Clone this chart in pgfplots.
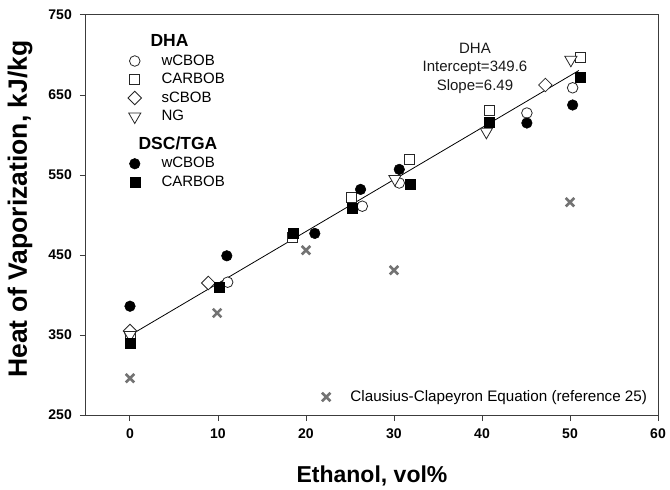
\documentclass[border=0pt]{standalone}
\usepackage{fontspec}
\setmainfont{Liberation Sans}
\usepackage{pgfplots}
\pgfplotsset{compat=1.18}
\definecolor{axgray}{RGB}{60,60,60}
\definecolor{xgray}{RGB}{115,115,115}
\begin{document}
\begin{tikzpicture}
\begin{axis}[
  scale only axis, width=572pt, height=400pt,
  xmin=-5, xmax=60, ymin=250, ymax=750,
  xtick={0,10,...,60}, ytick={250,350,...,750},
  tick align=outside, tick pos=left, major tick length=6pt,
  axis line style={axgray, line width=1pt},
  every tick/.style={axgray, line width=1pt},
  /pgf/number format/assume math mode=true,
  ticklabel style={font=\fontsize{14}{16}\selectfont\bfseries},
  yticklabel style={inner sep=0pt, xshift=-8pt},
  xticklabel style={inner sep=0pt, yshift=-8pt},
  xlabel={Ethanol, vol\%},
  ylabel={Heat of Vaporization, kJ/kg},
  every axis x label/.style={at={(axis description cs:0.5,0)}, anchor=base, yshift=-67pt, font=\fontsize{23}{26}\selectfont\bfseries},
  every axis y label/.style={at={([xshift=-59pt]axis description cs:0,0.515)}, rotate=90, anchor=base, font=\fontsize{26.5}{28}\selectfont\bfseries},
  legend cell align=left,
  legend style={draw=none, fill=none, inner sep=0pt, outer sep=0pt,
    at={(0.0734,0.94875)}, anchor=north west, row sep=4.5pt,
    nodes={inner sep=0pt, text height=11pt, text depth=3pt, font=\fontsize{15}{18}\selectfont},
    /tikz/every odd column/.append style={column sep=20pt}},
  legend image code/.code={\draw[#1] plot coordinates {(0pt,0pt)};},
]
\coordinate (bbsw) at (rel axis cs:0,0);
\coordinate (bbne) at (rel axis cs:1,1);
% regression line
\addplot[black, line width=0.8pt, forget plot] coordinates {(0,349.6) (51,680.6)};

\addlegendimage{empty legend}
\addlegendentry{\hspace*{-11pt}\fontsize{17.5}{18}\selectfont\bfseries DHA}
% DHA wCBOB
\addplot[only marks, mark=*, mark size=5.3pt, mark options={fill=white, draw=black!85, line width=0.8pt}]
  coordinates {(0,352) (11.1,416) (26.4,511) (30.6,540) (45.1,627.5) (50.3,659)};
\addlegendentry{wCBOB}
% DHA CARBOB
\addplot[only marks, mark=square*, mark size=5pt, mark options={fill=white, draw=black!85, line width=0.8pt}]
  coordinates {(0,351) (18.5,472) (25.2,522) (31.8,570) (40.8,631) (51.2,697.5)};
\addlegendentry{CARBOB}
% DHA sCBOB
\addplot[only marks, mark=square*, mark size=4.8pt, mark options={rotate=45, fill=white, draw=black!85, line width=0.8pt}]
  coordinates {(0,355) (8.9,415) (47.2,662.5)};
\addlegendentry{sCBOB}
% DHA NG
\addplot[only marks, mark=triangle*, mark size=7pt, mark options={rotate=180, fill=white, draw=black!85, line width=0.8pt}]
  coordinates {(0,350) (30.1,545) (40.5,604) (50.1,694)};
\addlegendentry{NG}

\addlegendimage{empty legend}
\addlegendentry[text height=5.75pt, text depth=0pt]{}
\addlegendimage{empty legend}
\addlegendentry{\hspace*{-23pt}\fontsize{17.5}{18}\selectfont\bfseries DSC/TGA}
% DSC wCBOB
\addplot[only marks, mark=*, mark size=5.3pt, mark options={fill=black, draw=black, line width=0.5pt}]
  coordinates {(0,386) (11,449) (21,477) (26.2,532) (30.6,557) (45.1,615) (50.3,637.5)};
\addlegendentry{wCBOB}
% DSC CARBOB
\addplot[only marks, mark=square*, mark size=5pt, mark options={fill=black, draw=black, line width=0.5pt}]
  coordinates {(0,340) (10.1,410) (18.6,477) (25.2,509) (31.9,539) (40.8,616) (51.2,672.5)};
\addlegendentry{CARBOB}

\node[align=center, font=\fontsize{15}{18.5}\selectfont, inner sep=0pt, text=black!90] at (axis cs:39.2,683.75) {DHA\\Intercept=349.6\\Slope=6.49};
\end{axis}

\begin{axis}[
  scale only axis, width=572pt, height=400pt,
  xmin=-5, xmax=60, ymin=250, ymax=750,
  hide axis,
  legend cell align=left,
  legend style={draw=none, fill=none, inner sep=0pt, outer sep=0pt,
    at={(0.9808,0.0275)}, anchor=south east,
    nodes={inner sep=0pt, text height=11pt, text depth=3pt, font=\fontsize{15.2}{18}\selectfont},
    /tikz/every odd column/.append style={column sep=20pt}},
  legend image code/.code={\draw[#1] plot coordinates {(0pt,0pt)};},
]
\addplot[only marks, mark=x, mark size=6pt, mark options={draw=xgray, line width=2.6pt}]
  coordinates {(0,296) (9.9,377.5) (20,456) (30,431) (50,516)};
\addlegendentry{Clausius-Clapeyron Equation (reference 25)}
\end{axis}
\pgfresetboundingbox
\path[use as bounding box] ([shift={(-86pt,-74pt)}]bbsw) rectangle ([shift={(12pt,15pt)}]bbne);
\end{tikzpicture}
\end{document}
